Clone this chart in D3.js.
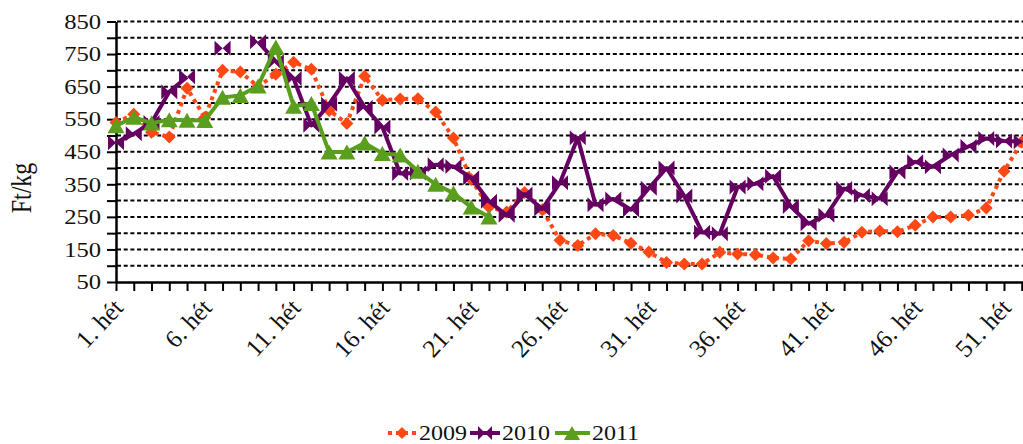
<!DOCTYPE html>
<html><head><meta charset="utf-8">
<script src="https://cdn.jsdelivr.net/npm/d3@7"></script>
<style>
html,body{margin:0;padding:0;background:#fff;overflow:hidden;}
svg{display:block;}
text{font-family:"Liberation Serif","Times New Roman",serif;fill:#111;}
</style></head>
<body>
<svg id="chart" width="1023" height="444"></svg>
<script>
const weeks = d3.range(1, 53);
const s2009 = [540,565,510,495,645,555,700,695,650,688,725,703,577,537,682,608,612,613,572,492,365,280,265,325,272,178,162,198,193,169,142,110,105,105,141,136,134,124,121,177,168,172,203,207,204,224,250,250,255,277,390,480];
const s2010 = [478,505,540,634,680,null,768,null,788,727,675,531,596,675,587,526,383,385,410,405,370,298,255,320,274,355,493,287,305,272,338,400,314,203,198,342,352,375,282,229,255,337,316,306,388,419,404,440,466,491,483,481];
const s2011 = [530,556,538,548,547,546,617,623,652,772,590,598,449,449,477,445,440,390,350,323,280,250];
const seriesNames = ["2009","2010","2011"];
const seriesColors = ["#FF4814","#650062","#5A9E1E"];
const yTickValues = d3.range(50, 851, 50);
const xLabelWeeks = [1,6,11,16,21,26,31,36,41,46,51];

const svg = d3.select("#chart");
const x = d3.scaleLinear().domain([1, 53]).range([116, 1039.5]);
const y = d3.scaleLinear().domain([50, 850]).range([282, 21.5]);
const SX = 1.2;
const FONT = '"Liberation Serif","Times New Roman",serif';

// gridlines
svg.append("g").selectAll("line").data(yTickValues.filter(v => v > 50)).join("line")
  .attr("x1", 117).attr("x2", 1040)
  .attr("y1", d => y(d)).attr("y2", d => y(d))
  .attr("stroke", "#000").attr("stroke-width", 2)
  .attr("stroke-dasharray", "4,2.7");

// y axis
const yAxis = svg.append("g").attr("transform", "translate(116,0)")
  .call(d3.axisLeft(y).tickValues(yTickValues).tickSize(9).tickSizeOuter(0)
    .tickFormat(d => ((d - 50) % 100 === 0 ? d : "")));
yAxis.select(".domain").attr("stroke", "#000").attr("stroke-width", 2.5);
yAxis.selectAll(".tick line").attr("stroke", "#000").attr("stroke-width", 2);
yAxis.selectAll(".tick text").attr("x", 0).attr("dy", null)
  .attr("dominant-baseline", "central")
  .attr("text-anchor", "end")
  .attr("transform", `translate(-15,0) scale(${SX},1)`)
  .style("font-size", "20.5px").style("font-family", FONT).attr("fill", "#111");

// x axis
const xAxis = svg.append("g").attr("transform", `translate(0,${y(50)})`)
  .call(d3.axisBottom(x).tickValues(d3.range(1, 54)).tickSize(9).tickSizeOuter(0)
    .tickFormat(d => (xLabelWeeks.includes(d) ? d + ". hét" : "")));
xAxis.select(".domain").attr("stroke", "#000").attr("stroke-width", 2.5);
xAxis.selectAll(".tick line").attr("stroke", "#000").attr("stroke-width", 2);
xAxis.selectAll(".tick text").attr("y", 0).attr("dy", null)
  .attr("text-anchor", "end")
  .attr("transform", `translate(8,27) rotate(-47)`)
  .style("font-size", "25px").style("font-family", FONT).attr("fill", "#111");

// y title
svg.append("text").attr("transform", `translate(31,188) scale(${SX},1) rotate(-90)`)
  .attr("text-anchor", "middle").style("font-size", "24px").text("Ft/kg");

// markers
const diamond = r => `M0,${-r}L${r},0L0,${r}L${-r},0Z`;
const bowtie = (w, h) => `M${-w},${-h}L0,0L${-w},${h}Z M${w},${-h}L0,0L${w},${h}Z`;
const tri = (w, h) => `M0,${-h}L${w},${h}L${-w},${h}Z`;
const markerPaths = [diamond(6.5), bowtie(8, 7.5), tri(8.5, 7.5)];
const legMarkers = [diamond(6), bowtie(7, 7), tri(8, 7)];
const dashes = ["4,4", null, null];

const allSeries = [s2009, s2010, s2011];
const line = d3.line().defined(d => d.v != null).x(d => x(d.w)).y(d => y(d.v));

allSeries.forEach((vals, i) => {
  const data = vals.map((v, k) => ({ w: weeks[k], v: v }));
  const g = svg.append("g");
  g.append("path").datum(data).attr("d", line)
    .attr("fill", "none").attr("stroke", seriesColors[i]).attr("stroke-width", 4)
    .attr("stroke-dasharray", dashes[i]).attr("stroke-linejoin", "round");
  g.selectAll("path.m").data(data.filter(d => d.v != null)).join("path").attr("class", "m")
    .attr("transform", d => `translate(${x(d.w)},${y(d.v)})`)
    .attr("d", markerPaths[i]).attr("fill", seriesColors[i]);
});

// legend
const legX = [[388, 416, 402, 419], [470, 500, 485, 502], [555, 590, 572, 592]];
const legY = 433;
const lg = svg.append("g");
seriesNames.forEach((name, i) => {
  const [x1, x2, mx, tx] = legX[i];
  lg.append("line").attr("x1", x1).attr("x2", x2).attr("y1", legY).attr("y2", legY)
    .attr("stroke", seriesColors[i]).attr("stroke-width", 4).attr("stroke-dasharray", dashes[i]);
  lg.append("path").attr("transform", `translate(${mx},${legY})`).attr("d", legMarkers[i]).attr("fill", seriesColors[i]);
  lg.append("text").attr("transform", `translate(${tx},${legY}) scale(${SX},1)`)
    .attr("dominant-baseline", "central").style("font-size", "20px").text(name);
});
</script>
</body></html>
